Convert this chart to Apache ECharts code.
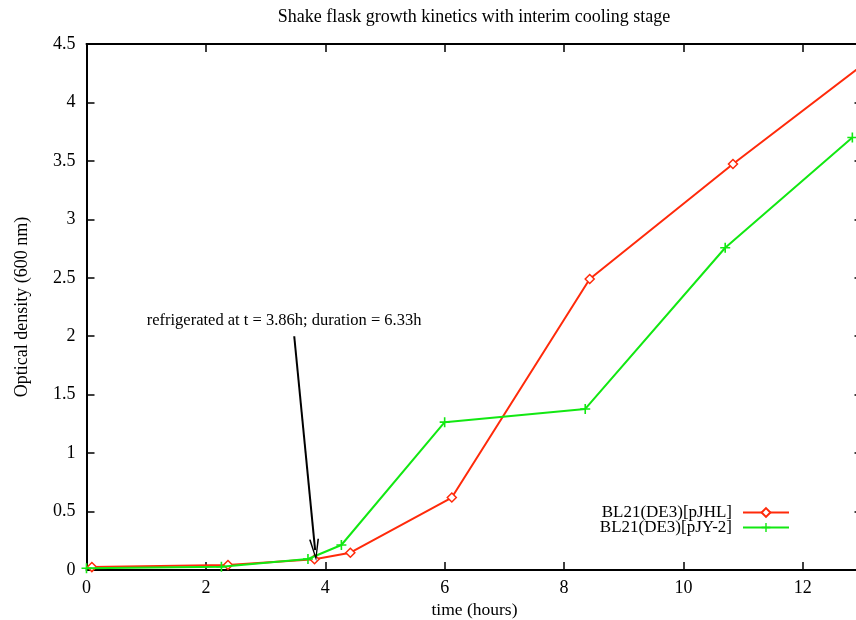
<!DOCTYPE html>
<html>
<head>
<meta charset="utf-8">
<script src="https://cdn.jsdelivr.net/npm/echarts@6/dist/echarts.min.js"></script>
<style>
  html, body { margin: 0; padding: 0; background: #fff; }
  #chart { width: 856px; height: 620px; }
</style>
</head>
<body>
<div id="chart"></div>
<script>
// Growth measurements: time (hours) and optical density at 600 nm
const pjhlTime = [0.09, 2.37, 3.82, 4.42, 6.12, 8.43, 10.83, 13.1];
const pjhlOD   = [0.025, 0.043, 0.092, 0.148, 0.62, 2.49, 3.473, 4.36];
const pjyTime  = [0.0, 2.26, 3.71, 4.27, 6.0, 8.355, 10.70, 12.83];
const pjyOD    = [0.015, 0.028, 0.094, 0.214, 1.265, 1.378, 2.757, 3.70];

const seriesNames = ['BL21(DE3)[pJHL]', 'BL21(DE3)[pJY-2]'];
const titleText = 'Shake flask growth kinetics with interim cooling stage';
const xName = 'time (hours)';
const yName = 'Optical density (600 nm)';

// Cooling annotation: arrow from label area down to the refrigeration point
const noteText = 'refrigerated at t = 3.86h; duration = 6.33h';
const notePos = [1.0, 2.13];
const arrowFrom = [3.48, 2.0];
const arrowTo = [3.83, 0.17];

const xMin = 0, xMax = 13, xStep = 2;
const yMin = 0, yMax = 4.5, yStep = 0.5;

const FONT = '"Liberation Serif", "DejaVu Serif", serif';
const RED = '#ff2a0a';
const GREEN = '#12e812';
const PLUS = 'path://M0,4.2L4.2,4.2L4.2,0L5.8,0L5.8,4.2L10,4.2L10,5.8L5.8,5.8L5.8,10L4.2,10L4.2,5.8L0,5.8Z';
const OPEN_ARROW = 'path://M0,20L5,0L10,20L8.4,20L5,5L1.6,20Z';

const zip = (xs, ys) => xs.map((x, i) => [x, ys[i]]);

const frameAxis = {
  axisLine: { show: true, onZero: false, lineStyle: { color: '#000', width: 2 } },
  axisTick: { show: true, inside: true, length: 8, lineStyle: { color: '#000', width: 1.5 } },
  splitLine: { show: false }
};

const chart = echarts.init(document.getElementById('chart'));
chart.setOption({
  animation: false,
  backgroundColor: '#fff',
  textStyle: { fontFamily: FONT },
  title: {
    text: titleText,
    left: 474, top: 8, textAlign: 'center', padding: 0,
    textStyle: { fontFamily: FONT, fontSize: 18, fontWeight: 'normal', color: '#000' }
  },
  legend: {
    orient: 'vertical',
    right: 66, top: 504,
    padding: 0,
    align: 'right',
    itemWidth: 46, itemHeight: 11, itemGap: -2,
    textStyle: {
      fontFamily: FONT, fontSize: 17, color: '#000',
      padding: [0, 6, 0, 0]
    },
    data: seriesNames
  },
  // the frame runs a few pixels past the right edge of the canvas
  grid: {
    left: 86.5, top: 44, right: -6.5, bottom: 50,
    containLabel: false, outerBoundsMode: 'none'
  },
  xAxis: [
    Object.assign({
      type: 'value', min: xMin, max: xMax, interval: xStep, position: 'bottom',
      name: xName, nameLocation: 'middle', nameGap: 31,
      nameTextStyle: { fontFamily: FONT, fontSize: 17.5, color: '#000' },
      axisLabel: { fontFamily: FONT, fontSize: 18, color: '#000', margin: 9, showMaxLabel: false }
    }, frameAxis),
    Object.assign({
      type: 'value', min: xMin, max: xMax, interval: xStep, position: 'top',
      axisLabel: { show: false }
    }, frameAxis)
  ],
  yAxis: [
    Object.assign({
      type: 'value', min: yMin, max: yMax, interval: yStep, position: 'left',
      name: yName, nameLocation: 'middle', nameGap: 55,
      nameTextStyle: { fontFamily: FONT, fontSize: 18, color: '#000' },
      axisLabel: { fontFamily: FONT, fontSize: 18, color: '#000', margin: 11 }
    }, frameAxis),
    Object.assign({
      type: 'value', min: yMin, max: yMax, interval: yStep, position: 'right',
      axisLabel: { show: false }
    }, frameAxis)
  ],
  series: [
    {
      name: seriesNames[0], type: 'line', data: zip(pjhlTime, pjhlOD),
      clip: true,
      symbol: 'diamond', symbolSize: 9, showAllSymbol: true,
      lineStyle: { color: RED, width: 2 },
      itemStyle: { color: '#fff', borderColor: RED, borderWidth: 1.5 },
      markLine: {
        silent: true,
        symbol: ['none', OPEN_ARROW],
        symbolSize: [10, 22],
        label: { show: false },
        lineStyle: { color: '#000', width: 2, type: 'solid' },
        data: [[{ coord: arrowFrom }, { coord: arrowTo }]]
      },
      markPoint: {
        silent: true,
        symbol: 'circle', symbolSize: 1,
        itemStyle: { color: 'rgba(0,0,0,0)' },
        label: {
          show: true, position: 'right', distance: 0,
          fontFamily: FONT, fontSize: 16.5, color: '#000',
          formatter: noteText
        },
        data: [{ coord: notePos }]
      },
      z: 2
    },
    {
      name: seriesNames[1], type: 'line', data: zip(pjyTime, pjyOD),
      clip: true,
      symbol: PLUS, symbolSize: 10, showAllSymbol: true,
      lineStyle: { color: GREEN, width: 2 },
      itemStyle: { color: GREEN, borderWidth: 0 },
      z: 3
    }
  ]
});
</script>
</body>
</html>
